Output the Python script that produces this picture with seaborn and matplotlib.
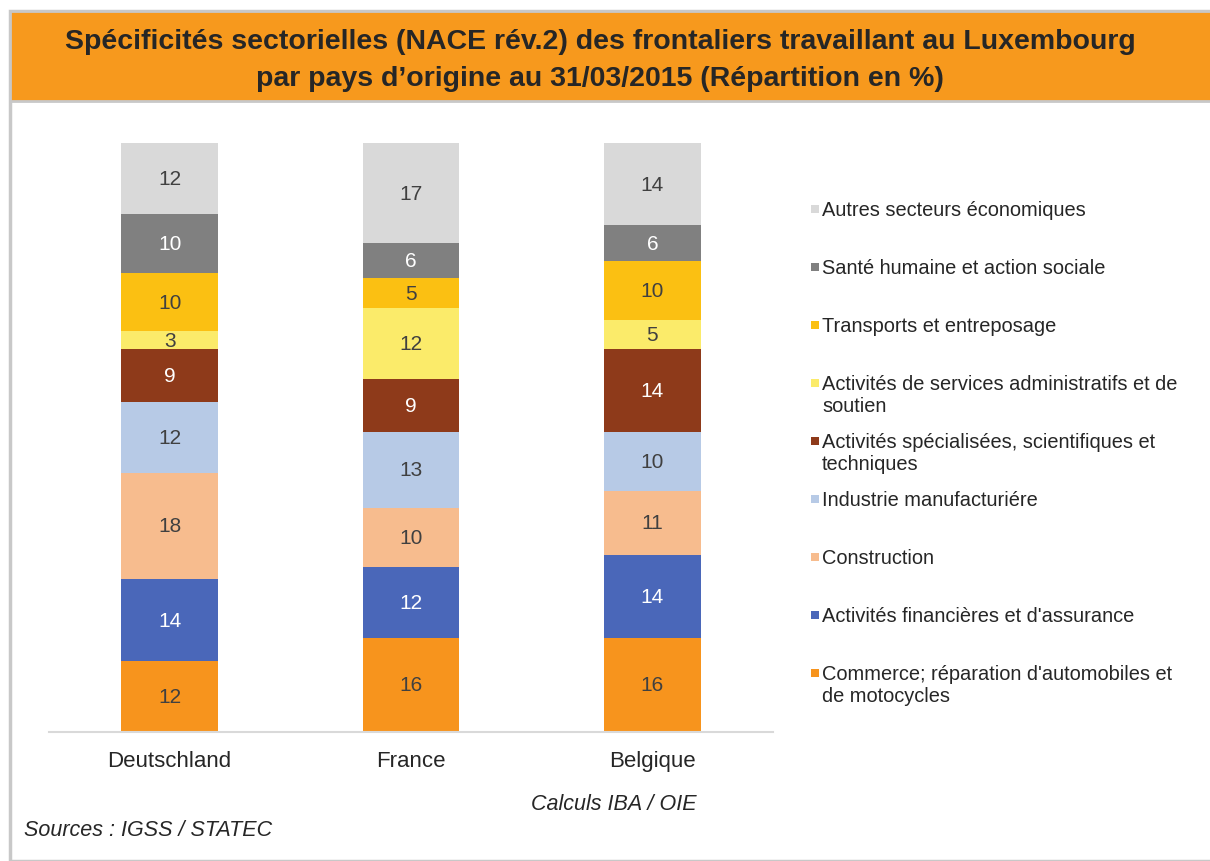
import numpy as np
import pandas as pd
import matplotlib
matplotlib.use("Agg")
import matplotlib.pyplot as plt
import seaborn as sns
from matplotlib.patches import Rectangle

# ---------- Data ----------
countries = ["Deutschland", "France", "Belgique"]

# sectors listed bottom -> top of the stack
sectors = [
    "Commerce; réparation d'automobiles et\nde motocycles",
    "Activités financières et d'assurance",
    "Construction",
    "Industrie manufacturiére",
    "Activités spécialisées, scientifiques et\ntechniques",
    "Activités de services administratifs et de\nsoutien",
    "Transports et entreposage",
    "Santé humaine et action sociale",
    "Autres secteurs économiques",
]

deutschland = [12, 14, 18, 12, 9, 3, 10, 10, 12]
france = [16, 12, 10, 13, 9, 12, 5, 6, 17]
belgique = [16, 14, 11, 10, 14, 5, 10, 6, 14]

sector_colors = [
    "#F7941D", "#4A67B9", "#F7BC8E", "#B7CAE6", "#8E3A1A",
    "#FBEB6A", "#FBC012", "#808080", "#D9D9D9",
]
label_colors = ["#404040", "#FFFFFF", "#404040", "#404040", "#FFFFFF",
                "#404040", "#404040", "#FFFFFF", "#404040"]

# ---------- Figure ----------
sns.set_theme(style="white")
plt.rcParams["font.family"] = ["Liberation Sans", "DejaVu Sans"]

W, H = 1210, 862
fig = plt.figure(figsize=(W / 100, H / 100), dpi=100)

def fx(px):
    return px / W

def fy(py):
    return 1 - py / H

# frame + orange banner
fig.patches.append(Rectangle((fx(10), 0), fx(1210), fy(12), transform=fig.transFigure,
                             facecolor="white", edgecolor="#C8C8C8", linewidth=2.5, zorder=0))
fig.patches.append(Rectangle((fx(10), fy(102)), fx(1210), fy(12) - fy(102), transform=fig.transFigure,
                             facecolor="#F7991D", edgecolor="#C8C8C8", linewidth=2, zorder=1))
fig.text(fx(600), fy(42), "Spécificités sectorielles (NACE rév.2) des frontaliers travaillant au Luxembourg",
         ha="center", va="center", fontsize=20.5, fontweight="bold", color="#262626")
fig.text(fx(600), fy(79), "par pays d’origine au 31/03/2015 (Répartition en %)",
         ha="center", va="center", fontsize=20.5, fontweight="bold", color="#262626")

ax = fig.add_axes([fx(49), fy(733), fx(773) - fx(49), fy(144) - fy(733)])
ax.set_zorder(3)
ax.patch.set_alpha(0)

df = pd.DataFrame({"Deutschland": deutschland, "France": france, "Belgique": belgique},
                  index=sectors)
cum = df.cumsum()

# draw from the top segment down so each lower bar covers the one behind
for i in range(len(sectors) - 1, -1, -1):
    d = pd.DataFrame({"pays": countries, "val": cum.iloc[i].values})
    sns.barplot(data=d, x="pays", y="val", order=countries, color=sector_colors[i],
                width=0.4, errorbar=None, saturation=1, ax=ax, linewidth=0)

for j, c in enumerate(countries):
    for i in range(len(sectors)):
        v = df.iloc[i][c]
        mid = cum.iloc[i][c] - v / 2
        ax.text(j, mid, f"{v}", ha="center", va="center", fontsize=15,
                color=label_colors[i])

ax.set_xlim(-0.5, 2.5)
ax.set_ylim(0, 100)
ax.set_xlabel("")
ax.set_ylabel("")
ax.set_yticks([])
sns.despine(ax=ax, left=True)
ax.spines["bottom"].set_color("#D9D9D9")
ax.spines["bottom"].set_linewidth(1.5)
ax.tick_params(axis="x", length=0, pad=13, labelsize=16, labelcolor="#262626")

# legend (top -> bottom), handle aligned with first text line
for k, i in enumerate(range(len(sectors) - 1, -1, -1)):
    yc = 210 + 58 * k
    fig.patches.append(Rectangle((fx(811), fy(yc + 4)), fx(8), fy(yc - 4) - fy(yc + 4),
                                 transform=fig.transFigure, facecolor=sector_colors[i],
                                 edgecolor="none", zorder=2))
    fig.text(fx(822), fy(yc - 9), sectors[i], ha="left", va="top", fontsize=14.4,
             color="#262626", linespacing=1.2)

fig.text(fx(614), fy(805), "Calculs IBA / OIE", ha="center", va="center",
         fontsize=15.5, style="italic", color="#262626")
fig.text(fx(24), fy(831), "Sources : IGSS / STATEC", ha="left", va="center",
         fontsize=15.5, style="italic", color="#262626")

fig.savefig("out.png", dpi=100)
